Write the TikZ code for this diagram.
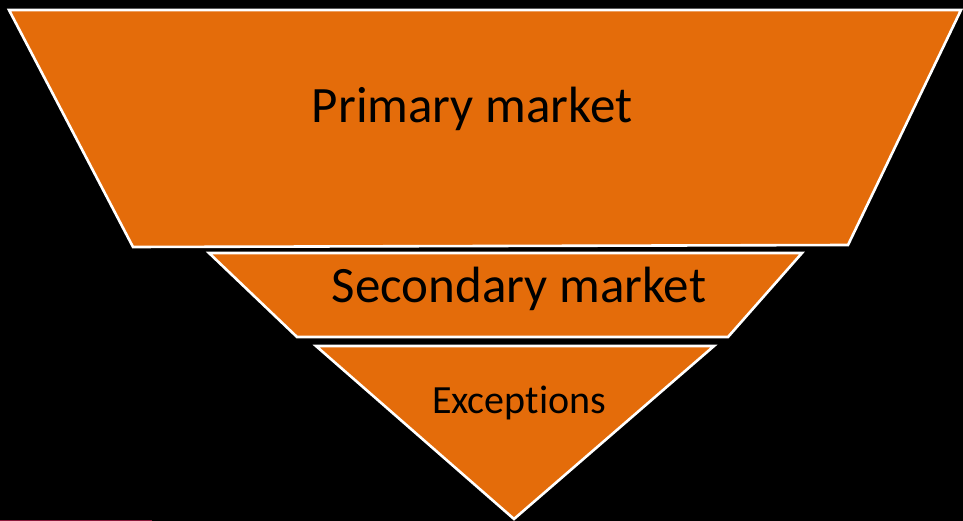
\documentclass[tikz,border=0pt]{standalone}
\usepackage{fontspec}
\setmainfont[Ligatures={NoCommon,NoContextual}]{Carlito}
\definecolor{funnelorange}{HTML}{E46C0A}
\definecolor{accentpink}{HTML}{8B1A3C}
\begin{document}
\begin{tikzpicture}[x=1pt,y=-1pt,
  tier/.style={fill=funnelorange,draw=white,line width=2.6pt,line join=miter},
  label/.style={anchor=base,inner sep=0pt,text=black}]
\fill[black] (0,0) rectangle (963,521);
\useasboundingbox (0,0) rectangle (963,521);
% top tier
\coordinate (p1) at (9,10);
\coordinate (p2) at (961,10);
\coordinate (p3) at (848,245);
\coordinate (p4) at (133,247);
\draw[tier] (p1) -- (p2) -- (p3) -- (p4) -- cycle;
% middle tier
\coordinate (s1) at (209,253);
\coordinate (s2) at (802,253);
\coordinate (s3) at (728,337);
\coordinate (s4) at (297,337);
\draw[tier] (s1) -- (s2) -- (s3) -- (s4) -- cycle;
% bottom tier
\coordinate (e1) at (316,346);
\coordinate (e2) at (714,346);
\coordinate (e3) at (514,519);
\draw[tier] (e1) -- (e2) -- (e3) -- cycle;
% labels
\node[label,font=\fontsize{51}{60}\selectfont] (primary) at (472,123) {Primary market};
\node[label,font=\fontsize{51}{60}\selectfont] (secondary) at (519,302) {Secondary market};
\node[label,font=\fontsize{40}{48}\selectfont] (exceptions) at (519,413) {Exceptions};
% thin accent line at bottom-left
\coordinate (a1) at (0,520.3);
\coordinate (a2) at (152,520.3);
\draw[accentpink,line width=1.2pt] (a1) -- (a2);
\end{tikzpicture}
\end{document}
